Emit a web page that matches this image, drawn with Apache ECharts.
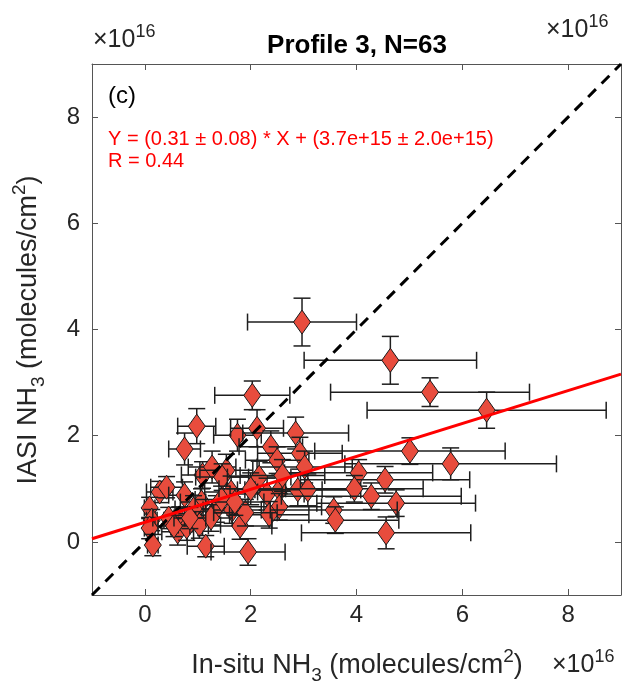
<!DOCTYPE html>
<html>
<head>
<meta charset="utf-8">
<script src="https://cdn.jsdelivr.net/npm/echarts@6/dist/echarts.min.js"></script>
<style>
html,body{margin:0;padding:0;background:#fff;}
#chart{width:622px;height:694px;}
</style>
</head>
<body>
<div id="chart"></div>
<script>
// values in units of 1e16 molecules/cm2
const insitu = [2.97,4.64,5.39,6.46,2.03,0.98,1.75,2.12,2.85,2.38,2.93,0.75,2.50,3.02,1.09,1.27,1.54,1.46,2.16,0.28,0.41,0.75,1.63,2.31,2.55,2.89,3.08,1.07,1.35,0.92,1.65,2.54,2.35,0.09,0.13,0.09,0.15,0.66,0.62,0.79,1.03,1.80,1.15,1.95,5.01,5.78,4.04,4.54,3.96,4.28,4.75,3.57,3.60,4.56,0.45,0.55,1.25,1.45,1.90,2.00,0.85,2.60,1.70];
const iasi   = [4.14,3.42,2.82,2.48,2.76,2.18,2.01,2.14,2.05,1.79,1.67,1.75,1.54,1.41,1.26,1.41,1.35,1.22,1.22,0.94,1.03,0.88,0.94,0.90,0.98,0.98,0.98,0.75,0.62,0.62,0.60,0.66,0.51,0.64,0.41,0.26,-0.06,0.41,0.19,0.28,0.32,0.30,-0.08,-0.19,1.71,1.47,1.30,1.17,1.00,0.86,0.73,0.60,0.41,0.17,0.45,0.30,0.45,0.80,0.55,1.00,0.45,1.25,0.75];
const insituErr = [1.03,1.63,1.88,2.26,0.71,0.36,0.45,0.50,1.00,0.60,0.80,0.30,0.60,0.90,0.40,0.45,0.50,0.50,0.60,0.25,0.30,0.30,0.50,0.70,0.80,1.00,1.00,0.40,0.45,0.35,0.55,0.80,0.75,0.10,0.10,0.10,0.10,0.30,0.30,0.30,0.40,0.60,0.35,0.70,1.80,2.00,1.40,1.60,1.30,1.70,1.50,1.20,1.20,1.60,0.30,0.30,0.40,0.50,0.60,0.60,0.30,0.80,0.55];
const iasiErr = [0.45,0.45,0.27,0.34,0.27,0.33,0.30,0.35,0.30,0.30,0.30,0.30,0.25,0.30,0.25,0.30,0.30,0.25,0.30,0.20,0.20,0.25,0.30,0.30,0.30,0.30,0.30,0.25,0.25,0.25,0.25,0.25,0.25,0.20,0.20,0.20,0.20,0.25,0.25,0.25,0.25,0.25,0.20,0.25,0.25,0.30,0.25,0.25,0.25,0.25,0.25,0.25,0.25,0.30,0.20,0.20,0.25,0.25,0.25,0.30,0.20,0.30,0.25];
const oneToOne = [[-1,-1],[9,9]];
const fitLine = [[-1,0.06],[9,3.16]];
const tickValues = [0,2,4,6,8];
const titleText = 'Profile 3, N=63';
const panelText = '(c)';
const eqText = 'Y = (0.31 \u00b1 0.08) * X + (3.7e+15 \u00b1 2.0e+15)';
const rText = 'R = 0.44';

const pts = insitu.map((x,i)=>[x, iasi[i], insituErr[i], iasiErr[i]]);
const chart = echarts.init(document.getElementById('chart'));
const axisCol = '#262626';
const font = '"Liberation Sans", Arial, sans-serif';
const baseAxis = {
  min:-1, max:9, interval:1,
  axisLine:{show:true, onZero:false, lineStyle:{color:'#555', width:1}},
  splitLine:{show:false},
  axisTick:{show:true, inside:true, length:6, lineStyle:{color:'#555'}, customValues: tickValues},
};
function renderItem(params, api){
  const x=api.value(0), y=api.value(1), xe=api.value(2), ye=api.value(3);
  const c=api.coord([x,y]), l=api.coord([x-xe,y]), r=api.coord([x+xe,y]);
  const t=api.coord([x,y+ye]), b=api.coord([x,y-ye]);
  const cap=8.5, st={stroke:'#1e1e1e', lineWidth:1.5};
  const ln=(x1,y1,x2,y2)=>({type:'line', shape:{x1,y1,x2,y2}, style:st});
  const dw=8.5, dh=12;
  return {type:'group', children:[
    ln(l[0],c[1],r[0],c[1]), ln(l[0],c[1]-cap,l[0],c[1]+cap), ln(r[0],c[1]-cap,r[0],c[1]+cap),
    ln(c[0],t[1],c[0],b[1]), ln(c[0]-cap,t[1],c[0]+cap,t[1]), ln(c[0]-cap,b[1],c[0]+cap,b[1]),
    {type:'polygon', shape:{points:[[c[0],c[1]-dh],[c[0]+dw,c[1]],[c[0],c[1]+dh],[c[0]-dw,c[1]]]},
     style:{fill:'#E84C3D', stroke:'#1a1a1a', lineWidth:1}}
  ]};
}
const lblStyle = {fontSize:24, color:axisCol, fontFamily:font};
const richSS = {
  n:{fontSize:25, lineHeight:34, verticalAlign:'middle', fill:axisCol, fontFamily:font},
  s:{fontSize:18, lineHeight:18, verticalAlign:'top', fill:axisCol, fontFamily:font},
  b:{fontSize:18, lineHeight:18, verticalAlign:'bottom', fill:axisCol, fontFamily:font}
};
const richLbl = {
  n:{fontSize:27, lineHeight:38, verticalAlign:'middle', fill:axisCol, fontFamily:font},
  s:{fontSize:19, lineHeight:19, verticalAlign:'top', fill:axisCol, fontFamily:font},
  b:{fontSize:19, lineHeight:19, verticalAlign:'bottom', fill:axisCol, fontFamily:font}
};
function mult(x,y){
  return {type:'text', x:x, y:y, style:{text:'{n|\u00d710}{s|16}', align:'left', verticalAlign:'middle', rich:richSS}};
}
chart.setOption({
  animation:false,
  backgroundColor:'#fff',
  grid:{left:92, top:64, right:1, bottom:99},
  xAxis:[
    Object.assign({}, baseAxis, {type:'value', position:'bottom',
      axisLabel:Object.assign({show:true, margin:8, customValues: tickValues}, lblStyle)}),
    Object.assign({}, baseAxis, {type:'value', position:'top', axisLabel:{show:false}})
  ],
  yAxis:[
    Object.assign({}, baseAxis, {type:'value', position:'left',
      axisLabel:Object.assign({show:true, margin:12, customValues: tickValues}, lblStyle)}),
    Object.assign({}, baseAxis, {type:'value', position:'right', axisLabel:{show:false}})
  ],
  series:[
    {type:'custom', renderItem, data:pts, clip:true, z:2, xAxisIndex:0, yAxisIndex:0},
    {type:'line', data:oneToOne, symbol:'none', z:4, lineStyle:{color:'#000', width:3, type:[11,8]}},
    {type:'line', data:fitLine, symbol:'none', z:4, lineStyle:{color:'#ff0000', width:3}}
  ],
  graphic:[
    {type:'text', x:357, y:46, style:{text:titleText, align:'center', verticalAlign:'middle', fontSize:26, fontWeight:'bold', fontFamily:font, fill:'#000'}},
    mult(93,40), mult(546,30), mult(552,665),
    {type:'text', x:357, y:666, style:{text:'{n|In-situ NH}{b|3}{n| (molecules/cm}{s|2}{n|)}', align:'center', verticalAlign:'middle', rich:richLbl}},
    {type:'text', x:29, y:330, rotation:Math.PI/2, style:{text:'{n|IASI NH}{b|3}{n| (molecules/cm}{s|2}{n|)}', align:'center', verticalAlign:'middle', rich:richLbl}},
    {type:'text', x:108, y:96, style:{text:panelText, verticalAlign:'middle', fontSize:24, fontFamily:font, fill:'#000'}},
    {type:'text', x:108, y:139, style:{text:eqText, verticalAlign:'middle', fontSize:20, fontFamily:font, fill:'#ff0000'}},
    {type:'text', x:108, y:161, style:{text:rText, verticalAlign:'middle', fontSize:20, fontFamily:font, fill:'#ff0000'}}
  ]
});
</script>
</body>
</html>
